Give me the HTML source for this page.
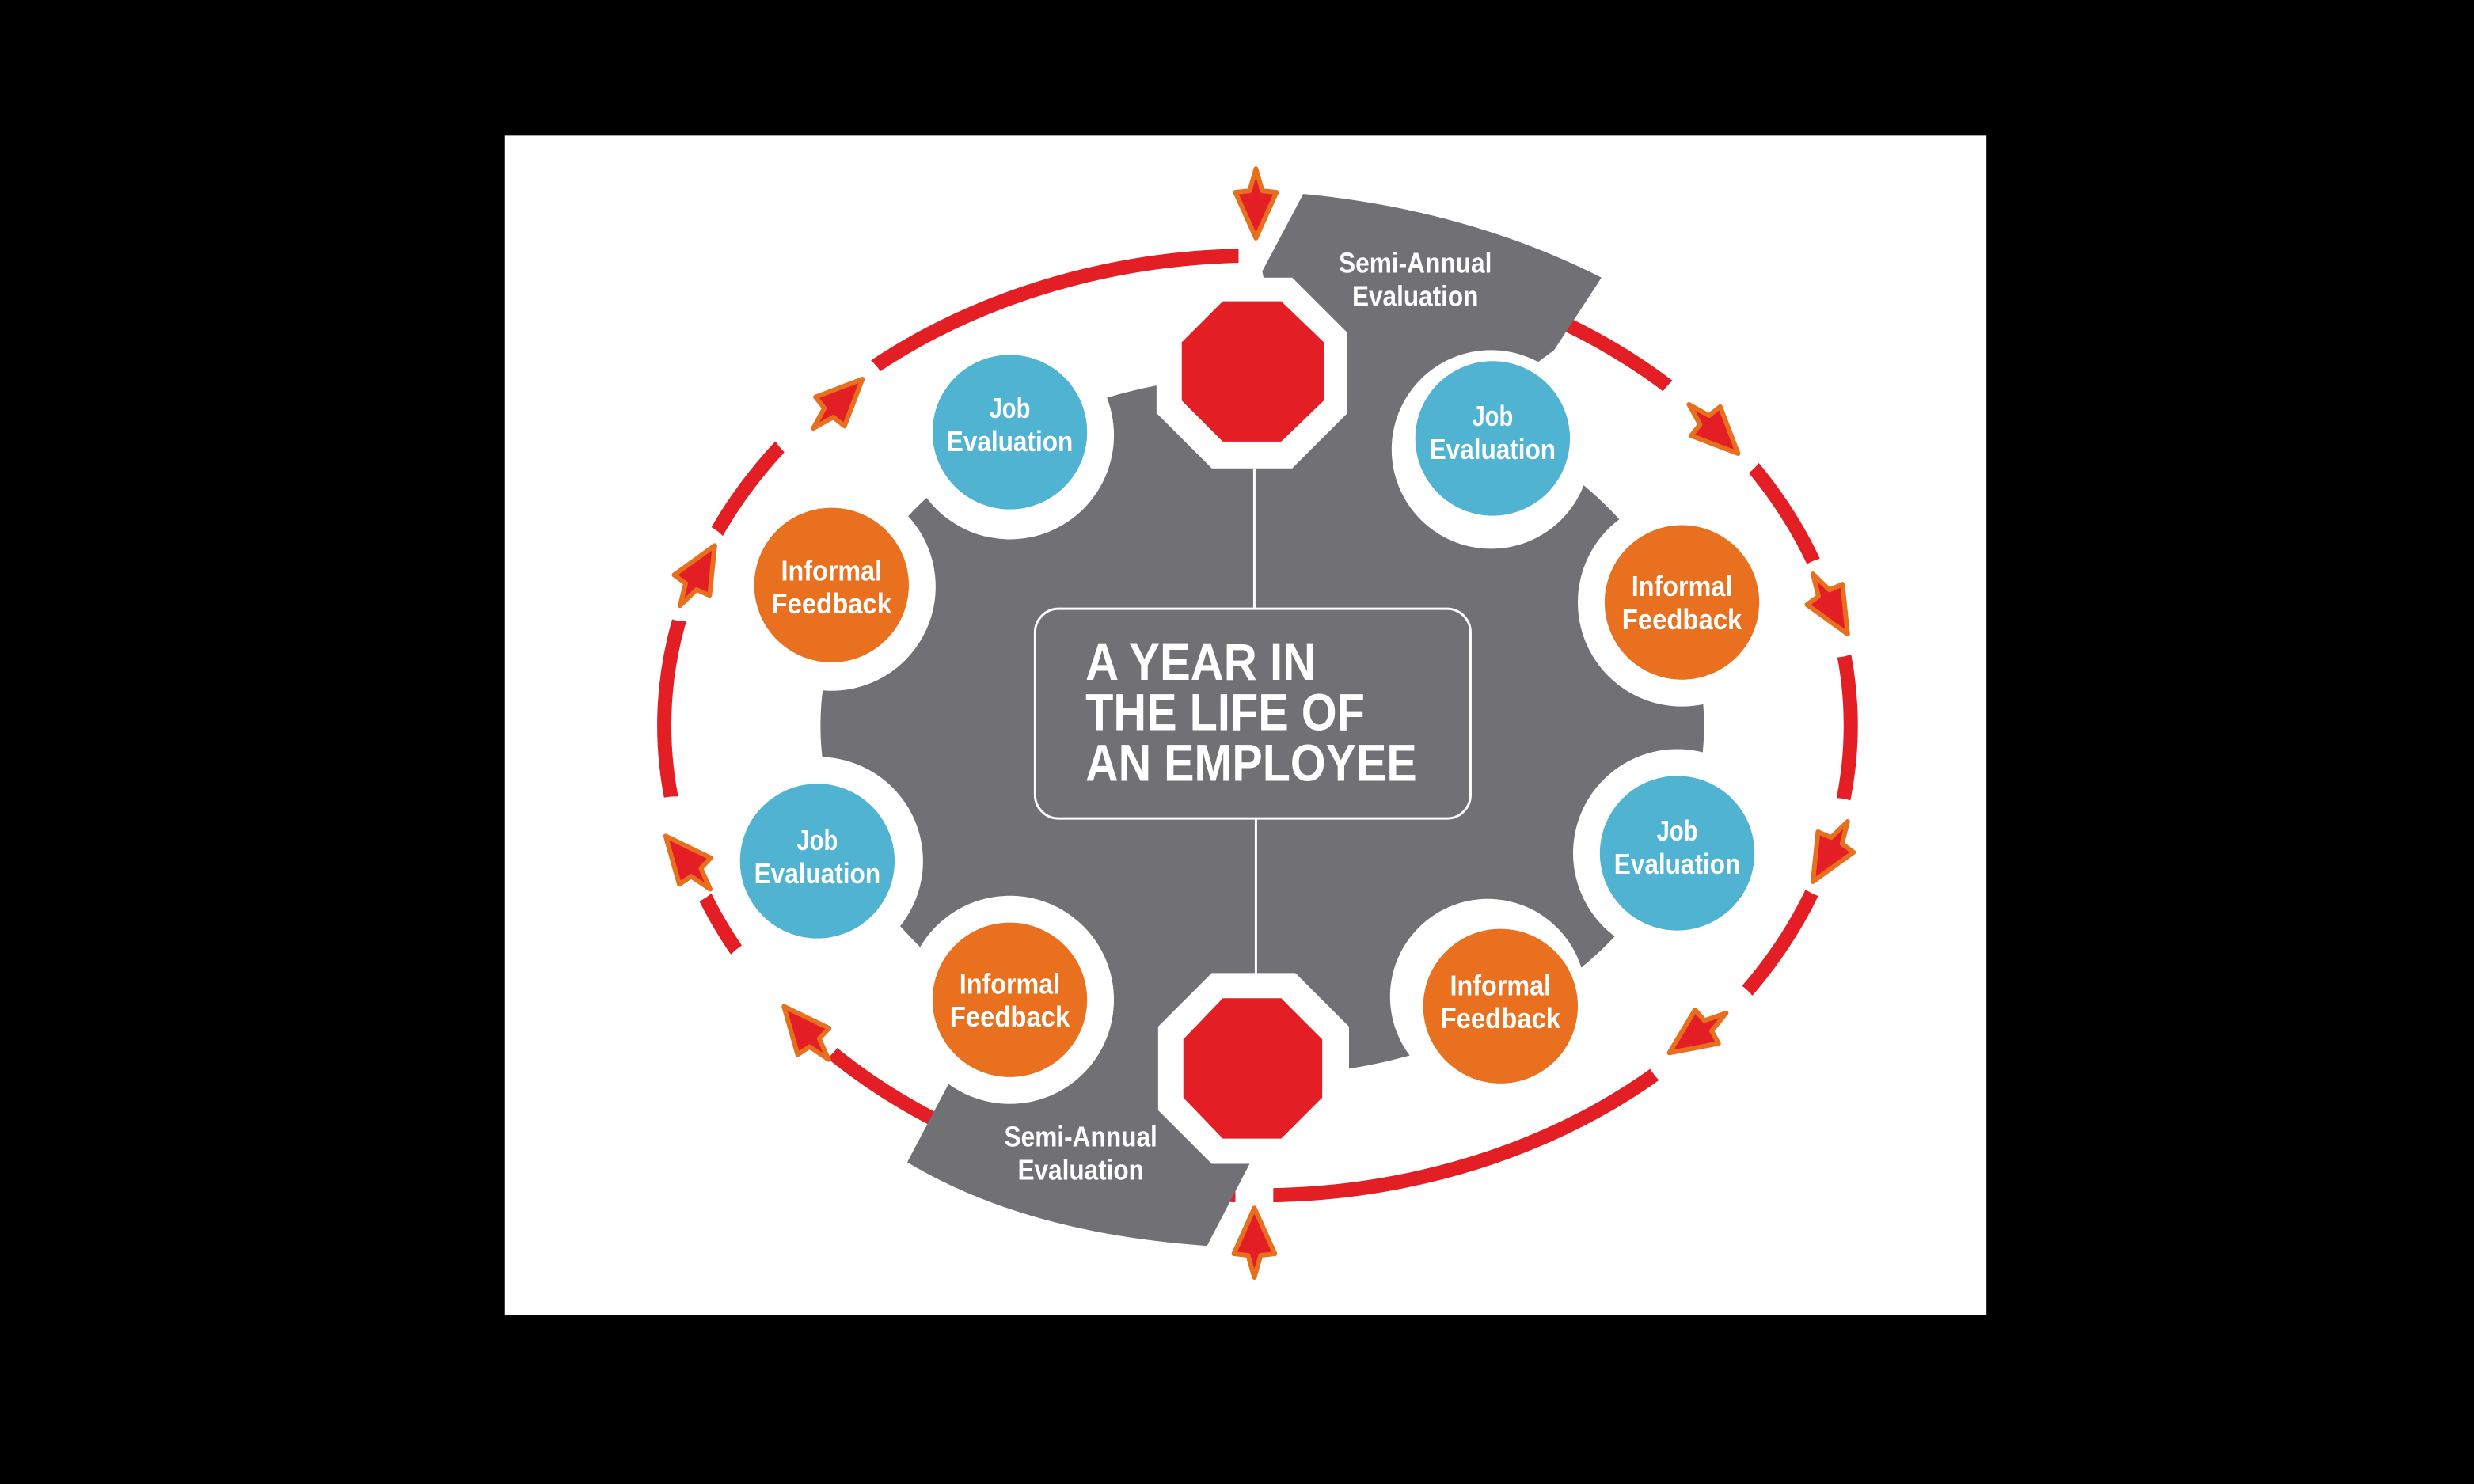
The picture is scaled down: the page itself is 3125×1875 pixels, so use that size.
<!DOCTYPE html>
<html><head><meta charset="utf-8"><style>
html,body{margin:0;padding:0;background:#000;}
svg{display:block;}
text{font-family:"Liberation Sans Narrow","Liberation Sans",sans-serif;font-weight:bold;fill:#fff;}
</style></head><body>
<svg width="3125" height="1875" viewBox="0 0 1568 941" preserveAspectRatio="none" xmlns="http://www.w3.org/2000/svg">
<defs>
<g id="arr"><path d="M0,-22 L4,-8 L13,-7 L0,22 L-13,-7 L-4,-8 Z" fill="#e31e24" stroke="#e86f1e" stroke-width="3" stroke-linejoin="round"/></g>
</defs>
<rect x="0" y="0" width="1568" height="941" fill="#000"/>
<rect x="320" y="86" width="939" height="748" fill="#fff"/>
<ellipse cx="797" cy="460" rx="376" ry="298" fill="none" stroke="#e31e24" stroke-width="9"/>
<g fill="#fff">
<circle cx="525" cy="258" r="40"/>
<circle cx="435" cy="362" r="32"/>
<circle cx="428" cy="540" r="35"/>
<circle cx="495" cy="637" r="45"/>
<circle cx="1085" cy="270" r="38"/>
<circle cx="1162" cy="385" r="32"/>
<circle cx="1163" cy="538" r="32"/>
<circle cx="1080" cy="657" r="40"/>
<rect x="783" y="735" width="24" height="40"/>
<rect x="785" y="145" width="24" height="35"/>
</g>
<ellipse cx="800" cy="460" rx="280" ry="222" fill="#717074"/>
<path d="M826,123 Q930,133 1015,176 L985,222 L920,270 L820,270 L800,172 Z" fill="#717074"/>
<path d="M575,737 L605,680 L680,640 L790,660 L792,738 L765,790 Q650,782 575,737 Z" fill="#717074"/>
<g fill="#fff">
<circle cx="640" cy="276" r="66"/>
<circle cx="945" cy="285" r="63"/>
<circle cx="527" cy="372" r="66"/>
<circle cx="1066" cy="382" r="66"/>
<circle cx="519" cy="546" r="66"/>
<circle cx="1063" cy="541" r="66"/>
<circle cx="640" cy="634" r="66"/>
<circle cx="943" cy="632" r="62"/>
<polygon points="768,176 819,176 854,211 854,262 819,297 768,297 733,262 733,211"/>
<polygon points="768,617 821,617 855,651 855,704 821,738 768,738 734,704 734,651"/>
</g>
<circle cx="640" cy="274" r="49" fill="#4fb3d1"/>
<circle cx="946" cy="278" r="49" fill="#4fb3d1"/>
<circle cx="527" cy="371" r="49" fill="#e8701f"/>
<circle cx="1066" cy="382" r="49" fill="#e8701f"/>
<circle cx="518" cy="546" r="49" fill="#4fb3d1"/>
<circle cx="1063" cy="541" r="49" fill="#4fb3d1"/>
<circle cx="640" cy="634" r="49" fill="#e8701f"/>
<circle cx="951" cy="638" r="49" fill="#e8701f"/>
<polygon points="775,191 812,191 839,217 839,254 812,280 775,280 749,254 749,217" fill="#e31e24"/>
<polygon points="775,633 812,633 838,659 838,696 812,722 775,722 750,696 750,659" fill="#e31e24"/>
<line x1="795" y1="297" x2="795" y2="386" stroke="#fff" stroke-width="1.5"/>
<line x1="796" y1="519" x2="796" y2="617" stroke="#fff" stroke-width="1.5"/>
<rect x="656" y="386" width="276" height="133" rx="15" fill="#717074" stroke="#fff" stroke-width="1.5"/>
<g font-size="33" lengthAdjust="spacingAndGlyphs">
<text x="688" y="431" textLength="146" lengthAdjust="spacingAndGlyphs">A YEAR IN</text>
<text x="688" y="463" textLength="177" lengthAdjust="spacingAndGlyphs">THE LIFE OF</text>
<text x="688" y="495" textLength="210" lengthAdjust="spacingAndGlyphs">AN EMPLOYEE</text>
</g>
<g font-size="18" text-anchor="middle">
<text x="640" y="265" textLength="26" lengthAdjust="spacingAndGlyphs">Job</text><text x="640" y="286" textLength="80" lengthAdjust="spacingAndGlyphs">Evaluation</text>
<text x="946" y="270" textLength="26" lengthAdjust="spacingAndGlyphs">Job</text><text x="946" y="291" textLength="80" lengthAdjust="spacingAndGlyphs">Evaluation</text>
<text x="527" y="368" textLength="64" lengthAdjust="spacingAndGlyphs">Informal</text><text x="527" y="389" textLength="76" lengthAdjust="spacingAndGlyphs">Feedback</text>
<text x="1066" y="378" textLength="64" lengthAdjust="spacingAndGlyphs">Informal</text><text x="1066" y="399" textLength="76" lengthAdjust="spacingAndGlyphs">Feedback</text>
<text x="518" y="539" textLength="26" lengthAdjust="spacingAndGlyphs">Job</text><text x="518" y="560" textLength="80" lengthAdjust="spacingAndGlyphs">Evaluation</text>
<text x="1063" y="533" textLength="26" lengthAdjust="spacingAndGlyphs">Job</text><text x="1063" y="554" textLength="80" lengthAdjust="spacingAndGlyphs">Evaluation</text>
<text x="640" y="630" textLength="64" lengthAdjust="spacingAndGlyphs">Informal</text><text x="640" y="651" textLength="76" lengthAdjust="spacingAndGlyphs">Feedback</text>
<text x="951" y="631" textLength="64" lengthAdjust="spacingAndGlyphs">Informal</text><text x="951" y="652" textLength="76" lengthAdjust="spacingAndGlyphs">Feedback</text>
<text x="897" y="173" textLength="97" lengthAdjust="spacingAndGlyphs">Semi-Annual</text><text x="897" y="194" textLength="80" lengthAdjust="spacingAndGlyphs">Evaluation</text>
<text x="685" y="727" textLength="97" lengthAdjust="spacingAndGlyphs">Semi-Annual</text><text x="685" y="748" textLength="80" lengthAdjust="spacingAndGlyphs">Evaluation</text>
</g>
<use href="#arr" transform="translate(796,129)"/>
<use href="#arr" transform="translate(1086,272) rotate(-45)"/>
<use href="#arr" transform="translate(1160,383) rotate(-30)"/>
<use href="#arr" transform="translate(1160,540) rotate(30)"/>
<use href="#arr" transform="translate(1076,655) rotate(55)"/>
<use href="#arr" transform="translate(795,788) rotate(180)"/>
<use href="#arr" transform="translate(511,655) rotate(140)"/>
<use href="#arr" transform="translate(436,547) rotate(140)"/>
<use href="#arr" transform="translate(442,365) rotate(-150)"/>
<use href="#arr" transform="translate(531,256) rotate(-135)"/>
</svg>
</body></html>
